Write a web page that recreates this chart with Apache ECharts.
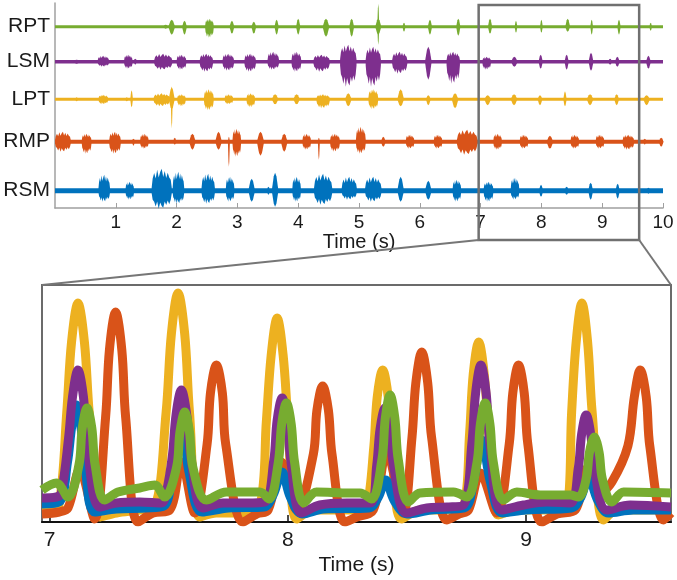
<!DOCTYPE html>
<html><head><meta charset="utf-8">
<script src="https://cdn.jsdelivr.net/npm/echarts@6/dist/echarts.min.js"></script>
<style>html,body{margin:0;padding:0;background:#fff}#c{width:677px;height:580px}</style>
</head><body><div id="c"></div>
<script>
// ---------- data ----------
const TRACE_NAMES = ['RPT', 'LSM', 'LPT', 'RMP', 'RSM'];
const TRACE_BASELINES = [181.3, 146.3, 108.7, 66.3, 17.3];
const TIME_RANGE = [0, 10];
const TIME_TICKS = [1, 2, 3, 4, 5, 6, 7, 8, 9, 10];
const ZOOM_WINDOW = [6.968, 9.608];
const ZOOM_TICKS = [7, 8, 9];

// bursts: [time (s), duration (s), amplitude up, amplitude down]
const RPT_BURSTS = [
  [1.82, 0.08, 2, 2], [1.92, 0.11, 7, 8], [2.13, 0.08, 6, 8], [2.54, 0.14, 8, 11], [2.91, 0.08, 6, 7],
  [3.27, 0.08, 5, 7], [3.645, 0.07, 7, 8], [4.00, 0.07, 8, 8], [4.457, 0.11, 8, 10], [4.879, 0.08, 8, 10],
  [5.317, 0.1, 8, 8], [5.317, 0.025, 23, 18], [5.74, 0.05, 4, 5], [6.167, 0.07, 7, 8], [6.633, 0.07, 8, 9],
  [7.155, 0.07, 8, 7], [7.582, 0.045, 6, 6], [8.0, 0.045, 7, 6], [8.432, 0.08, 8, 5], [8.827, 0.045, 7, 8],
  [9.276, 0.055, 7, 8], [9.797, 0.045, 4, 4]
];
const LSM_BURSTS = [
  [0.356, 0.11, 2, 2], [0.795, 0.19, 6, 5], [1.206, 0.14, 7, 7], [1.32, 0.05, 3, 3], [1.78, 0.30, 8, 8],
  [2.08, 0.16, 7, 8], [2.49, 0.22, 8, 10], [2.85, 0.19, 8, 9], [3.21, 0.19, 8, 10], [3.59, 0.19, 10, 8],
  [3.97, 0.16, 10, 10], [4.385, 0.27, 7, 10], [4.824, 0.27, 17, 25], [5.235, 0.25, 15, 25], [5.67, 0.25, 10, 12],
  [6.14, 0.11, 15, 18], [6.55, 0.22, 10, 22], [7.10, 0.14, 5, 8], [7.555, 0.11, 5, 5], [7.988, 0.07, 7, 7],
  [8.415, 0.07, 7, 8], [8.816, 0.08, 9, 9], [9.13, 0.07, 3, 3], [9.249, 0.08, 5, 5], [9.76, 0.08, 6, 7]
];
const LPT_BURSTS = [
  [0.356, 0.05, 2, 2], [0.795, 0.16, 4.5, 5], [1.18, 0.05, 2, 2], [1.26, 0.045, 9, 8], [1.755, 0.27, 6, 7],
  [1.92, 0.1, 12, 10], [1.92, 0.025, 13, 29], [2.08, 0.14, 5, 7], [2.53, 0.16, 10, 11], [2.86, 0.14, 5, 5],
  [3.22, 0.14, 6, 8], [3.62, 0.11, 5, 5], [3.974, 0.11, 5, 5], [4.41, 0.22, 5, 9], [4.824, 0.11, 6, 7],
  [5.235, 0.16, 10, 10], [5.685, 0.11, 10, 7], [6.14, 0.08, 4, 6], [6.58, 0.11, 6, 9], [7.116, 0.11, 4, 6],
  [7.55, 0.11, 5, 6], [7.977, 0.08, 4, 6], [8.388, 0.055, 8, 7], [8.8, 0.11, 5, 6], [9.238, 0.08, 5, 6],
  [9.73, 0.11, 4, 6]
];
const RMP_BURSTS = [
  [0.13, 0.26, 10, 10], [0.52, 0.16, 8, 12], [0.987, 0.19, 10, 12], [1.29, 0.045, 3, 4], [1.47, 0.14, 8, 7],
  [1.97, 0.055, 4, 3], [2.26, 0.11, 8, 8], [2.69, 0.11, 10, 8], [2.86, 0.025, 5, 25], [2.99, 0.14, 13, 15],
  [3.38, 0.12, 10, 14], [3.77, 0.11, 8, 10], [4.14, 0.14, 8, 8], [4.34, 0.025, 4, 18], [4.605, 0.16, 8, 10],
  [5.03, 0.16, 15, 12], [5.4, 0.08, 5, 5], [5.84, 0.14, 7, 7], [6.3, 0.14, 7, 7], [6.78, 0.34, 12, 13],
  [7.28, 0.14, 8, 8], [7.714, 0.14, 7, 7], [8.14, 0.11, 6, 7], [8.55, 0.14, 7, 7], [8.964, 0.14, 7, 7],
  [9.43, 0.19, 7, 8], [9.7, 0.045, 3, 3], [9.97, 0.08, 4, 5]
];
const RSM_BURSTS = [
  [0.81, 0.19, 16, 11], [1.23, 0.14, 9, 9], [1.755, 0.33, 22, 18], [2.03, 0.19, 19, 13], [2.52, 0.22, 17, 13],
  [2.88, 0.14, 14, 11], [3.235, 0.11, 12, 11], [3.51, 0.05, 4, 4], [3.62, 0.11, 18, 16], [3.974, 0.14, 14, 11],
  [4.41, 0.30, 17, 14], [4.84, 0.25, 14, 9], [5.235, 0.27, 14, 11], [5.685, 0.11, 14, 11], [6.14, 0.11, 10, 9],
  [6.61, 0.14, 11, 11], [7.13, 0.16, 9, 11], [7.566, 0.14, 13, 9], [7.994, 0.07, 6, 6], [8.415, 0.07, 4, 4],
  [8.81, 0.08, 8, 9], [9.254, 0.07, 7, 8], [9.76, 0.07, 3, 3]
];

// zoomed envelopes: [time (s), amplitude]
const ORANGE_ENV = [
  [6.968, 12], [7.0, 12], [7.04, 18], [7.072, 110], [7.092, 180], [7.119, 219], [7.146, 180], [7.166, 110], [7.21, 5],
  [7.28, 9], [7.378, 12], [7.441, 15], [7.489, 110], [7.511, 188], [7.539, 229], [7.567, 188], [7.587, 110], [7.63, 5],
  [7.70, 9], [7.812, 9], [7.882, 15], [7.91, 102], [7.93, 167], [7.955, 204], [7.98, 167], [8.0, 102], [8.037, 3],
  [8.106, 12], [8.218, 12], [8.303, 12], [8.331, 14], [8.361, 76], [8.375, 125], [8.398, 152], [8.421, 125], [8.435, 76], [8.478, 3],
  [8.555, 12], [8.681, 12], [8.737, 15], [8.763, 90], [8.778, 148], [8.801, 180], [8.824, 148], [8.843, 90], [8.884, 7],
  [8.961, 12], [9.087, 12], [9.171, 15], [9.191, 110], [9.21, 180], [9.234, 219], [9.258, 180], [9.277, 110], [9.325, 2],
  [9.381, 12], [9.479, 12], [9.608, 12]
];
const RED_ENV = [
  [6.968, 8], [7.04, 10], [7.077, 14], [7.126, 52], [7.189, 3], [7.235, 105], [7.251, 172], [7.277, 210], [7.303, 172], [7.319, 105], [7.371, 0],
  [7.434, 9], [7.504, 12], [7.553, 60], [7.609, 9], [7.661, 78], [7.675, 129], [7.70, 157], [7.725, 129], [7.739, 78], [7.812, 0],
  [7.87, 8], [7.917, 12], [7.973, 60], [8.037, 12], [8.107, 68], [8.122, 112], [8.146, 136], [8.17, 112], [8.185, 68], [8.239, 0],
  [8.289, 5], [8.358, 12], [8.415, 69], [8.484, 9], [8.521, 85], [8.537, 139], [8.562, 170], [8.587, 139], [8.603, 85], [8.667, 2],
  [8.72, 8], [8.758, 12], [8.807, 49], [8.877, 9], [8.929, 78], [8.944, 129], [8.968, 157], [8.992, 129], [9.007, 78], [9.066, 0],
  [9.13, 8], [9.206, 12], [9.262, 55], [9.311, 29], [9.36, 40], [9.427, 76], [9.454, 125], [9.479, 152], [9.504, 125], [9.519, 76], [9.577, 2], [9.608, 9]
];
const BLUE_ENV = [
  [6.968, 18], [7.04, 20], [7.075, 60], [7.093, 96], [7.112, 117], [7.131, 96], [7.148, 58], [7.19, 10],
  [7.28, 13], [7.40, 14], [7.48, 16], [7.515, 52], [7.532, 82], [7.55, 100], [7.568, 82], [7.585, 50], [7.64, 10],
  [7.75, 14], [7.90, 15], [7.94, 28], [7.975, 50], [8.01, 25], [8.06, 8],
  [8.15, 13], [8.34, 14], [8.38, 25], [8.41, 42], [8.445, 22], [8.5, 8],
  [8.6, 12], [8.74, 14], [8.78, 42], [8.814, 82], [8.85, 40], [8.9, 9],
  [9.0, 12], [9.19, 14], [9.23, 25], [9.262, 45], [9.3, 22], [9.345, 9],
  [9.45, 12], [9.608, 12]
];
const PURPLE_ENV = [
  [6.968, 24], [7.028, 25], [7.049, 29], [7.08, 85], [7.096, 125], [7.119, 152], [7.142, 125], [7.158, 76], [7.21, 15],
  [7.28, 19], [7.378, 20], [7.469, 19], [7.49, 30], [7.515, 66], [7.531, 108], [7.553, 132], [7.575, 108], [7.592, 66], [7.644, 14],
  [7.728, 19], [7.826, 19], [7.903, 20], [7.941, 62], [7.955, 102], [7.976, 124], [7.997, 102], [8.012, 62], [8.057, 9],
  [8.134, 17], [8.247, 19], [8.345, 19], [8.373, 57], [8.387, 93], [8.408, 114], [8.429, 93], [8.443, 57], [8.499, 9],
  [8.583, 14], [8.667, 15], [8.737, 17], [8.772, 78], [8.788, 129], [8.81, 157], [8.832, 129], [8.848, 78], [8.898, 12],
  [8.989, 17], [9.087, 20], [9.185, 19], [9.219, 54], [9.233, 88], [9.252, 107], [9.271, 88], [9.286, 54], [9.339, 12],
  [9.437, 17], [9.608, 15]
];
const GREEN_ENV = [
  [6.968, 32], [7.028, 39], [7.077, 25], [7.123, 57], [7.137, 94], [7.157, 114], [7.177, 94], [7.191, 57], [7.231, 22],
  [7.287, 30], [7.378, 34], [7.441, 37], [7.483, 25], [7.533, 55], [7.547, 90], [7.567, 110], [7.587, 90], [7.601, 55], [7.658, 22],
  [7.742, 30], [7.882, 30], [7.921, 23], [7.96, 60], [7.974, 98], [7.994, 119], [8.014, 98], [8.028, 60], [8.067, 19],
  [8.12, 30], [8.261, 29], [8.303, 29], [8.351, 23], [8.395, 63], [8.409, 104], [8.429, 127], [8.449, 104], [8.463, 63], [8.506, 20],
  [8.555, 29], [8.695, 30], [8.751, 25], [8.794, 60], [8.808, 98], [8.828, 119], [8.848, 98], [8.862, 60], [8.905, 22],
  [8.961, 30], [9.059, 27], [9.185, 27], [9.22, 25], [9.252, 43], [9.266, 70], [9.286, 85], [9.306, 70], [9.32, 43], [9.36, 20],
  [9.409, 30], [9.608, 29]
];

// ---------- styling ----------
const C = { green: '#77AC30', purple: '#7E2F8E', orange: '#EDB120', red: '#D95319', blue: '#0072BD' };
const TRACE_COLORS = [C.green, C.purple, C.orange, C.red, C.blue];
const TRACE_WIDTHS = [3, 3.5, 3, 4, 5];
const TRACE_BURSTS = [RPT_BURSTS, LSM_BURSTS, LPT_BURSTS, RMP_BURSTS, RSM_BURSTS];
const FONT = 'Liberation Sans, Arial, Helvetica, sans-serif';
const TXT = '#1a1a1a';
// jagged glyph outline used to draw one burst (shape template, fraction of width / amplitude)
const GLYPH_X = [-1, -0.9, -0.75, -0.6, -0.45, -0.3, -0.15, 0, 0.15, 0.3, 0.45, 0.6, 0.75, 0.9, 1];
const GLYPH_TOP = [0.15, 0.55, 0.8, 0.55, 0.95, 0.6, 0.85, 1.0, 0.62, 0.9, 0.58, 0.82, 0.6, 0.5, 0.15];
const GLYPH_BOT = [0.15, 0.5, 0.62, 0.88, 0.6, 1.0, 0.65, 0.85, 0.95, 0.6, 0.8, 0.55, 0.75, 0.5, 0.15];

const chart = echarts.init(document.getElementById('c'), null, { renderer: 'canvas' });

function burstSeries(bursts, base, color) {
  return {
    type: 'custom', xAxisIndex: 0, yAxisIndex: 0, clip: false, z: 3,
    data: bursts.map(b => [b[0], b[1], b[2], b[3], base]),
    encode: { x: 0, y: 4 },
    renderItem: function (params, api) {
      const t = api.value(0), w = api.value(1), up = api.value(2), dn = api.value(3), b = api.value(4);
      const c = api.coord([t, b]);
      const hw = Math.max(1, api.size([w, 0])[0] / 2);
      const u = api.size([0, up])[1], d = api.size([0, dn])[1];
      const pts = [];
      if (hw < 4) {
        pts.push([c[0] - hw, c[1]], [c[0] - hw * 0.4, c[1] - u * 0.8], [c[0], c[1] - u], [c[0] + hw * 0.4, c[1] - u * 0.8], [c[0] + hw, c[1]],
                 [c[0] + hw * 0.4, c[1] + d * 0.8], [c[0], c[1] + d], [c[0] - hw * 0.4, c[1] + d * 0.8]);
      } else {
        for (let i = 0; i < GLYPH_X.length; i++) pts.push([c[0] + GLYPH_X[i] * hw, c[1] - GLYPH_TOP[i] * u]);
        for (let i = GLYPH_X.length - 1; i >= 0; i--) pts.push([c[0] + GLYPH_X[i] * hw, c[1] + GLYPH_BOT[i] * d]);
      }
      return { type: 'polygon', shape: { points: pts }, style: { fill: color } };
    }
  };
}

const series = [];
TRACE_NAMES.forEach((name, i) => {
  series.push({
    type: 'line', name: name, xAxisIndex: 0, yAxisIndex: 0, symbol: 'none', z: 2,
    data: TIME_RANGE.map(t => [t, TRACE_BASELINES[i]]),
    lineStyle: { color: TRACE_COLORS[i], width: TRACE_WIDTHS[i] }
  });
  series.push(burstSeries(TRACE_BURSTS[i], TRACE_BASELINES[i], TRACE_COLORS[i]));
});

[[ORANGE_ENV, C.orange], [RED_ENV, C.red], [BLUE_ENV, C.blue], [PURPLE_ENV, C.purple], [GREEN_ENV, C.green]]
  .forEach(([d, col]) => {
    series.push({
      type: 'line', xAxisIndex: 1, yAxisIndex: 1, symbol: 'none', smooth: 0.35, clip: true,
      data: d, lineStyle: { color: col, width: 9, cap: 'butt', join: 'round' }
    });
  });

chart.setOption({
  animation: false,
  backgroundColor: '#fff',
  grid: [
    { left: 55, right: 14, top: 3, bottom: 372 },
    { left: 42, right: 6, top: 285, bottom: 58, show: true, borderColor: '#6b6b6b', borderWidth: 2 }
  ],
  xAxis: [
    {
      gridIndex: 0, type: 'value', min: TIME_RANGE[0], max: TIME_RANGE[1],
      name: 'Time (s)', nameLocation: 'middle', nameGap: 23,
      nameTextStyle: { fontFamily: FONT, fontSize: 20, color: TXT },
      axisLine: { lineStyle: { color: '#a0a0a0', width: 1.5 } },
      axisTick: { inside: true, length: 5, customValues: TIME_TICKS, lineStyle: { color: '#a0a0a0' } },
      axisLabel: { customValues: TIME_TICKS, margin: 5, fontFamily: FONT, fontSize: 19, color: TXT },
      splitLine: { show: false }
    },
    {
      gridIndex: 1, type: 'value', min: ZOOM_WINDOW[0], max: ZOOM_WINDOW[1],
      name: 'Time (s)', nameLocation: 'middle', nameGap: 33,
      nameTextStyle: { fontFamily: FONT, fontSize: 21, color: TXT },
      axisLine: { onZero: false, lineStyle: { color: '#111', width: 2 } },
      axisTick: { inside: true, length: 7, customValues: ZOOM_TICKS, lineStyle: { color: '#111', width: 1.5 } },
      axisLabel: { customValues: ZOOM_TICKS, margin: 8, fontFamily: FONT, fontSize: 21, color: TXT },
      splitLine: { show: false }
    }
  ],
  yAxis: [
    {
      gridIndex: 0, type: 'value', min: 0, max: 205,
      axisLine: { show: true, lineStyle: { color: '#a0a0a0', width: 1.5 } },
      axisTick: { show: false },
      axisLabel: {
        customValues: TRACE_BASELINES, margin: 5, fontFamily: FONT, fontSize: 21, color: TXT,
        formatter: function (v) {
          let best = 0;
          TRACE_BASELINES.forEach((b, i) => { if (Math.abs(b - v) < Math.abs(TRACE_BASELINES[best] - v)) best = i; });
          return TRACE_NAMES[best];
        }
      },
      splitLine: { show: false }
    },
    { gridIndex: 1, type: 'value', min: 0, max: 237, show: false, splitLine: { show: false } }
  ],
  series: series
});

// magnifier box + connector lines, positioned from the zoom window through the axes
const tl = chart.convertToPixel({ gridIndex: 0 }, [ZOOM_WINDOW[0], 205]);
const br = chart.convertToPixel({ gridIndex: 0 }, [ZOOM_WINDOW[1], 0]);
const btl = chart.convertToPixel({ gridIndex: 1 }, [ZOOM_WINDOW[0], 237]);
const btr = chart.convertToPixel({ gridIndex: 1 }, [ZOOM_WINDOW[1], 237]);
const boxTop = tl[1] + 2, boxBottom = br[1] + 32;
chart.setOption({
  graphic: [
    { type: 'rect', z: 100, shape: { x: tl[0], y: boxTop, width: br[0] - tl[0], height: boxBottom - boxTop }, style: { stroke: '#707070', lineWidth: 2.5, fill: null } },
    { type: 'line', z: 100, shape: { x1: tl[0], y1: boxBottom, x2: btl[0], y2: btl[1] }, style: { stroke: '#767676', lineWidth: 2 } },
    { type: 'line', z: 100, shape: { x1: br[0], y1: boxBottom, x2: btr[0], y2: btr[1] }, style: { stroke: '#767676', lineWidth: 2 } }
  ]
});
</script>
</body></html>
